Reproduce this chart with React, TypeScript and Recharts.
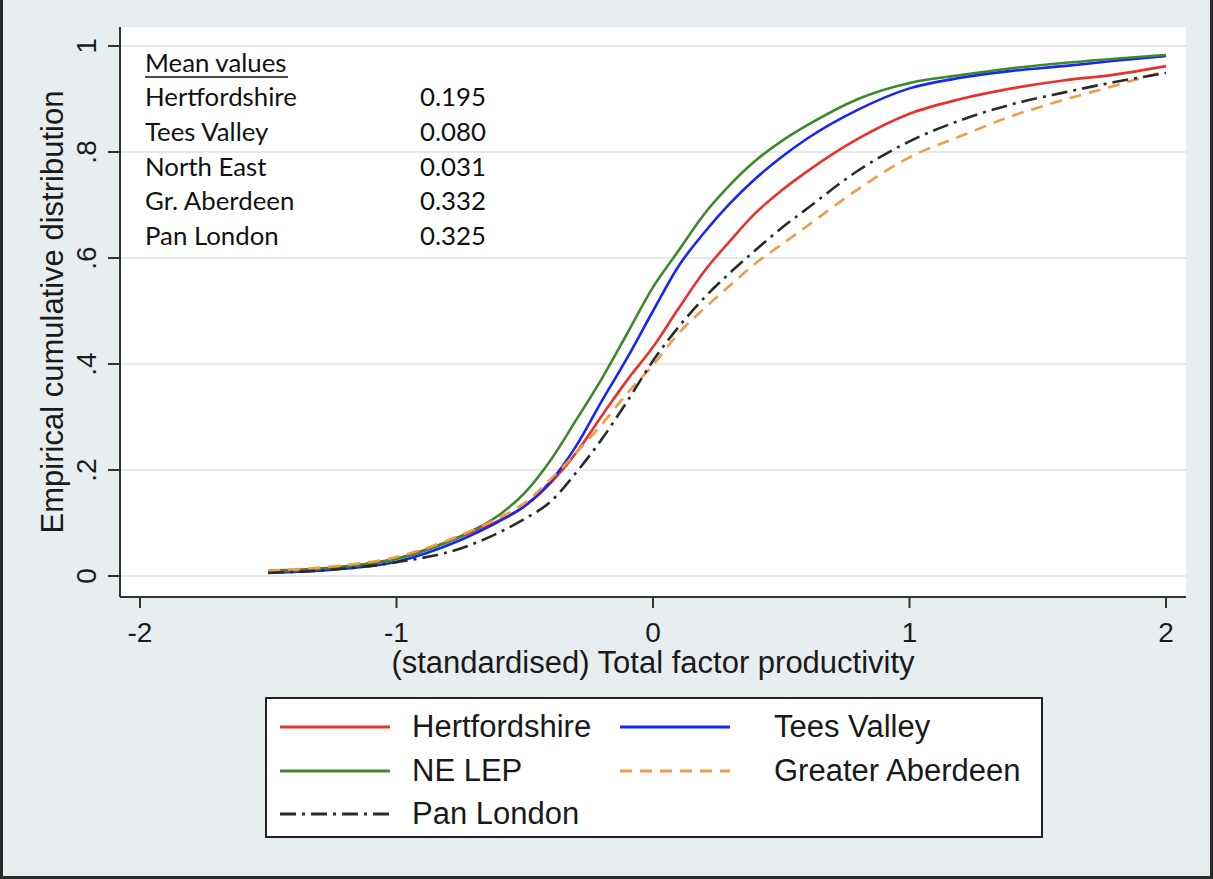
import React from 'react';
import { LineChart, Line, XAxis, YAxis, CartesianGrid, Legend, Label } from 'recharts';

// Standardised TFP grid on which the empirical CDFs are evaluated
const tfpGrid = [-1.5, -1.25, -1.0, -0.75, -0.6, -0.5, -0.4, -0.3, -0.2, -0.1, 0, 0.1, 0.2, 0.3, 0.4, 0.5, 0.6, 0.8, 1.0, 1.2, 1.4, 1.6, 1.8, 2.0];

// Empirical cumulative distribution by LEP
const hertfordshire = [0.010, 0.016, 0.033, 0.074, 0.105, 0.132, 0.175, 0.232, 0.302, 0.370, 0.432, 0.505, 0.575, 0.632, 0.685, 0.727, 0.763, 0.825, 0.872, 0.900, 0.920, 0.935, 0.946, 0.962];
const teesValley = [0.006, 0.012, 0.027, 0.068, 0.103, 0.132, 0.178, 0.245, 0.330, 0.412, 0.500, 0.585, 0.648, 0.703, 0.750, 0.790, 0.825, 0.880, 0.920, 0.940, 0.953, 0.962, 0.972, 0.981];
const neLep = [0.008, 0.015, 0.032, 0.075, 0.115, 0.157, 0.218, 0.294, 0.372, 0.458, 0.545, 0.614, 0.683, 0.738, 0.784, 0.820, 0.850, 0.900, 0.930, 0.945, 0.958, 0.968, 0.976, 0.983];
const greaterAberdeen = [0.010, 0.018, 0.036, 0.077, 0.110, 0.138, 0.182, 0.232, 0.286, 0.345, 0.398, 0.458, 0.505, 0.548, 0.590, 0.625, 0.660, 0.730, 0.790, 0.830, 0.868, 0.898, 0.925, 0.953];
const panLondon = [0.006, 0.012, 0.026, 0.052, 0.082, 0.108, 0.140, 0.195, 0.258, 0.330, 0.406, 0.470, 0.525, 0.572, 0.615, 0.656, 0.693, 0.765, 0.820, 0.860, 0.890, 0.912, 0.932, 0.949];

// Axis ticks
const xTicks = [-2, -1, 0, 1, 2];
const yTicks = [0, 0.2, 0.4, 0.6, 0.8, 1];
const yTickLabels = ['0', '.2', '.4', '.6', '.8', '1'];

// Mean values table
const meanRegions = ['Hertfordshire', 'Tees Valley', 'North East', 'Gr. Aberdeen', 'Pan London'];
const meanValues = ['0.195', '0.080', '0.031', '0.332', '0.325'];

const series = [
  { key: 'hertfordshire', name: 'Hertfordshire', values: hertfordshire, color: '#e8322a', dash: undefined as string | undefined },
  { key: 'teesValley', name: 'Tees Valley', values: teesValley, color: '#1626f5', dash: undefined },
  { key: 'neLep', name: 'NE LEP', values: neLep, color: '#3a8a2c', dash: undefined },
  { key: 'greaterAberdeen', name: 'Greater Aberdeen', values: greaterAberdeen, color: '#f39a45', dash: '12 8' },
  { key: 'panLondon', name: 'Pan London', values: panLondon, color: '#2a2a2a', dash: '16 6 3 6' },
];

const rows = tfpGrid.map((x, i) => {
  const row: Record<string, number> = { x };
  series.forEach((s) => {
    row[s.key] = s.values[i];
  });
  return row;
});

const FONT = '"Liberation Sans", Arial, Helvetica, sans-serif';
const TABLE_FONT = 'Lato, "Open Sans", sans-serif';
const INK = '#1a1a1a';
const AXIS = '#333333';

const XTick = (props: any) => {
  const { x, y, payload } = props;
  return (
    <text x={x} y={y + 34} textAnchor="middle" fontSize={28} fill={INK} fontFamily={FONT}>
      {String(payload.value)}
    </text>
  );
};

const YTick = (props: any) => {
  const { x, y, payload } = props;
  const idx = yTicks.findIndex((t) => Math.abs(t - payload.value) < 1e-6);
  return (
    <text transform={`translate(${x - 12},${y}) rotate(-90)`} textAnchor="middle" fontSize={28} fill={INK} fontFamily={FONT}>
      {idx >= 0 ? yTickLabels[idx] : ''}
    </text>
  );
};

const renderLegend = () => {
  const rowTops = [28, 72, 115];
  return (
    <div
      style={{
        width: 778,
        height: 141,
        boxSizing: 'border-box',
        border: '2px solid #222',
        background: '#ffffff',
        position: 'relative',
        fontFamily: FONT,
      }}
    >
      {series.map((s, i) => {
        const col = i % 2;
        const row = Math.floor(i / 2);
        const lineLeft = col === 0 ? 13 : 353;
        const textLeft = col === 0 ? 145 : 507;
        const cy = rowTops[row];
        return (
          <React.Fragment key={s.key}>
            <svg width={110} height={10} style={{ position: 'absolute', left: lineLeft, top: cy - 5 }}>
              <line x1={0} y1={5} x2={110} y2={5} stroke={s.color} strokeWidth={3} strokeDasharray={s.dash} />
            </svg>
            <div
              style={{
                position: 'absolute',
                left: textLeft,
                top: cy - 19,
                fontSize: 31,
                lineHeight: '38px',
                color: INK,
                whiteSpace: 'nowrap',
              }}
            >
              {s.name}
            </div>
          </React.Fragment>
        );
      })}
    </div>
  );
};

export default function App() {
  return (
    <div style={{ position: 'absolute', left: 0, top: 0, width: 1213, height: 879, background: '#e8edf0', overflow: 'hidden' }}>
      <LineChart
        width={1213}
        height={879}
        data={rows}
        margin={{ top: 27, right: 27, bottom: 242, left: 60 }}
      >
        <CartesianGrid vertical={false} horizontal fill="#ffffff" stroke="#e3e9ec" strokeWidth={2} horizontalValues={yTicks} />
        <XAxis
          dataKey="x"
          type="number"
          domain={[-2.078, 2.078]}
          ticks={xTicks}
          allowDataOverflow
          height={40}
          tickSize={11}
          tickMargin={0}
          tick={<XTick />}
          axisLine={{ stroke: AXIS, strokeWidth: 2 }}
          tickLine={{ stroke: AXIS, strokeWidth: 2 }}
        >
          <Label
            content={(p: any) => {
              const vb = p.viewBox;
              return (
                <text x={vb.x + vb.width / 2} y={673} textAnchor="middle" fontSize={31} fill={INK} fontFamily={FONT}>
                  (standardised) Total factor productivity
                </text>
              );
            }}
          />
        </XAxis>
        <YAxis
          type="number"
          domain={[-0.0396, 1.0358]}
          ticks={yTicks}
          allowDataOverflow
          width={60}
          tickSize={12}
          tickMargin={0}
          tick={<YTick />}
          axisLine={{ stroke: AXIS, strokeWidth: 2 }}
          tickLine={{ stroke: AXIS, strokeWidth: 2 }}
        >
          <Label
            content={(p: any) => {
              const vb = p.viewBox;
              const cy = vb.y + vb.height / 2;
              return (
                <text transform={`translate(63,${cy}) rotate(-90)`} textAnchor="middle" fontSize={31} fill={INK} fontFamily={FONT}>
                  Empirical cumulative distribution
                </text>
              );
            }}
          />
        </YAxis>
        <Legend
          layout="vertical"
          verticalAlign="middle"
          align="center"
          content={renderLegend}
          wrapperStyle={{ left: 265, top: 697, width: 778, height: 141 }}
        />
        {series.map((s) => (
          <Line
            key={s.key}
            dataKey={s.key}
            name={s.name}
            type="monotone"
            stroke={s.color}
            strokeWidth={2.6}
            strokeDasharray={s.dash}
            dot={false}
            activeDot={false}
            isAnimationActive={false}
          />
        ))}
      </LineChart>

      {/* Mean values table inside the plot region */}
      <svg width={1213} height={879} style={{ position: 'absolute', left: 0, top: 0, pointerEvents: 'none' }}>
        <text x={145} y={72} fontSize={25.8} fill="#111" fontFamily={TABLE_FONT}>Mean values</text>
        <line x1={145} y1={77} x2={288} y2={77} stroke="#111" strokeWidth={1.5} />
        {meanRegions.map((r, i) => (
          <React.Fragment key={r}>
            <text x={145} y={106 + i * 34.8} fontSize={25.8} fill="#111" fontFamily={TABLE_FONT}>{r}</text>
            <text x={420} y={106 + i * 34.8} fontSize={25.8} fill="#111" fontFamily={TABLE_FONT}>{meanValues[i]}</text>
          </React.Fragment>
        ))}
      </svg>

      {/* Figure frame */}
      <div
        style={{
          position: 'absolute',
          left: 0,
          top: 0,
          width: 1213,
          height: 879,
          boxSizing: 'border-box',
          borderLeft: '3px solid #2a2a2a',
          borderRight: '3px solid #2a2a2a',
          borderBottom: '3px solid #2a2a2a',
          pointerEvents: 'none',
        }}
      />
    </div>
  );
}
